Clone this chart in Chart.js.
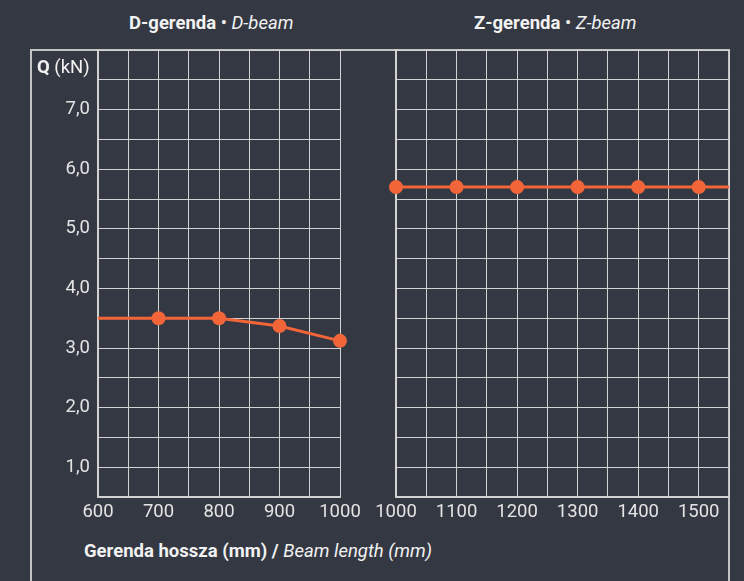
<!DOCTYPE html>
<html>
<head>
<meta charset="utf-8">
<script src="https://cdn.jsdelivr.net/npm/chart.js@4/dist/chart.umd.min.js"></script>
<style>
  html, body { margin: 0; padding: 0; background: #343843; }
  body { width: 744px; height: 581px; position: relative; overflow: hidden; font-family: Roboto, "Noto Sans", sans-serif; color: #e8e8e8; }
  .frame { position: absolute; left: 30px; top: 49px; width: 700px; height: 560px; border: 2px solid #c4c4c4; box-sizing: border-box; }
  .title { position: absolute; top: 12px; font-size: 18.5px; line-height: 22px; color: #f2f2f2; white-space: nowrap; }
  .title b { font-weight: 700; }
  .title i { font-weight: 400; }
  #canvas-d { position: absolute; left: 31px; top: 40px; }
  #canvas-z { position: absolute; left: 368px; top: 40px; }
  .ylabel { position: absolute; left: 37px; top: 56px; font-size: 18.5px; line-height: 22px; color: #f2f2f2; }
  .xlabel { position: absolute; left: 84px; top: 540px; font-size: 18.5px; line-height: 22px; color: #f2f2f2; }
</style>
</head>
<body>
<div class="frame"></div>
<div class="title" style="left:129px"><b>D-gerenda</b> • <i>D-beam</i></div>
<div class="title" style="left:474px"><b>Z-gerenda</b> • <i>Z-beam</i></div>
<canvas id="canvas-d" width="335" height="490"></canvas>
<canvas id="canvas-z" width="372" height="490"></canvas>
<div class="ylabel"><b>Q</b> (kN)</div>
<div class="xlabel"><b>Gerenda hossza (mm) /</b> <i>Beam length (mm)</i></div>
<script>
// D-beam: beam length (mm) and load Q (kN)
const dLengths = [600, 700, 800, 900, 1000];
const dLoads = [3.5, 3.5, 3.5, 3.37, 3.12];
const dMarkers = [0, 7, 7, 7, 7];

// Z-beam
const zLengths = [1000, 1100, 1200, 1300, 1400, 1500, 1550];
const zLoads = [5.7, 5.7, 5.7, 5.7, 5.7, 5.7, 5.7];
const zMarkers = [7, 7, 7, 7, 7, 7, 0];

const yMin = 0.5;
const yMax = 8;
const yStep = 0.5;

const lineColor = '#f26538';
const gridColor = '#d2d2d2';
const tickColor = '#e4e4e4';

function noPadding(s) {
  s.paddingLeft = 0;
  s.paddingRight = 0;
  s.paddingTop = 0;
  s.paddingBottom = 0;
}

function makeChart(id, xs, ys, radii, xMin, xMax, showYTicks, yWidth, rightPad) {
  const ctx = document.getElementById(id).getContext('2d');
  return new Chart(ctx, {
    type: 'line',
    data: {
      datasets: [{
        data: xs.map((x, i) => ({ x: x, y: ys[i] })),
        borderColor: lineColor,
        backgroundColor: lineColor,
        borderWidth: 3,
        pointRadius: radii,
        pointHoverRadius: radii,
        pointBorderWidth: 0,
        tension: 0,
        clip: false
      }]
    },
    options: {
      responsive: false,
      animation: false,
      layout: { padding: { top: 10, right: rightPad, left: 0, bottom: 0 } },
      plugins: { legend: { display: false }, tooltip: { enabled: false } },
      scales: {
        x: {
          type: 'linear',
          min: xMin,
          max: xMax,
          grid: { color: gridColor, lineWidth: 1, drawTicks: false },
          border: { color: gridColor, width: 2 },
          ticks: {
            stepSize: 50,
            autoSkip: false,
            maxRotation: 0,
            padding: 4,
            color: tickColor,
            font: { family: 'Roboto', size: 18.5 },
            callback: v => (v % 100 === 0 ? String(v) : '')
          },
          afterFit: s => { s.height = 33; noPadding(s); }
        },
        y: {
          min: yMin,
          max: yMax,
          grid: { color: gridColor, lineWidth: 1, drawTicks: false },
          border: { color: gridColor, width: 2 },
          ticks: {
            display: showYTicks,
            stepSize: yStep,
            autoSkip: false,
            padding: 8,
            color: tickColor,
            font: { family: 'Roboto', size: 18.5 },
            callback: v => (Number.isInteger(v) && v < yMax ? v.toFixed(1).replace('.', ',') : '')
          },
          afterFit: s => { s.width = yWidth; noPadding(s); }
        }
      }
    }
  });
}

const dChart = makeChart('canvas-d', dLengths, dLoads, dMarkers, 600, 1000, true, 67, 26);
const zChart = makeChart('canvas-z', zLengths, zLoads, zMarkers, 1000, 1550, false, 28, 11);
</script>
</body>
</html>
